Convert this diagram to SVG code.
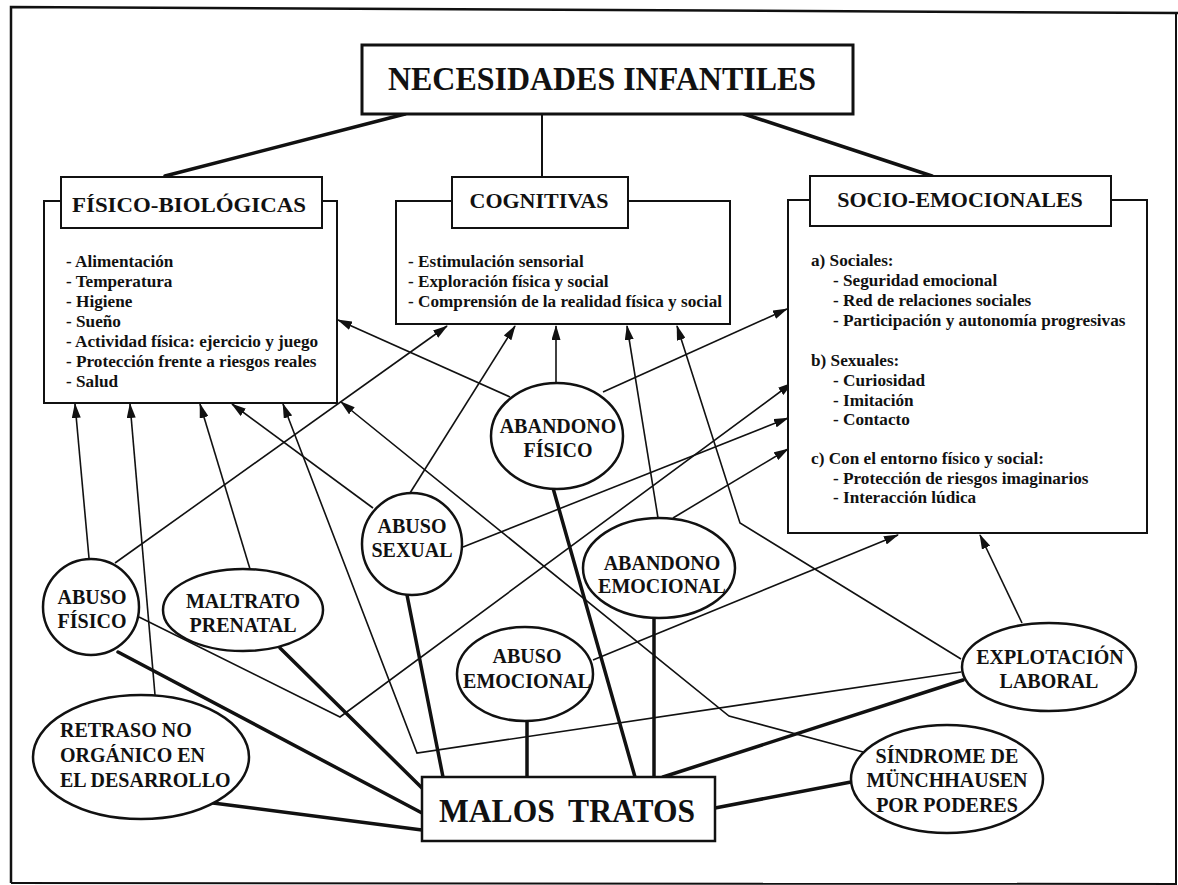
<svg xmlns="http://www.w3.org/2000/svg" width="1178" height="885" viewBox="0 0 1178 885">
<defs>
<marker id="ah" markerUnits="userSpaceOnUse" markerWidth="15" markerHeight="9" refX="14" refY="4.5" orient="auto">
<path d="M0,0 L15,4.5 L0,9 z" fill="#111"/>
</marker>
<style>
.t{font-family:"Liberation Serif","Times New Roman",serif;font-weight:bold;fill:#111}
.box{fill:#fff;stroke:#111;stroke-width:2}
.node{fill:#fff;stroke:#111;stroke-width:2.5}
.thin{fill:none;stroke:#111;stroke-width:1.6;marker-end:url(#ah)}
.thick{fill:none;stroke:#111;stroke-width:3.5;stroke-linecap:round}
.it{font-size:17.2px}
.lb{font-size:22px}
.el{font-size:20px;text-anchor:middle}
</style>
</defs>
<rect width="1178" height="885" fill="#fff"/>
<g id="frame" fill="none" stroke="#111">
<path d="M11,883 L11,7 L1178,13" stroke-width="2.5"/>
<path d="M1176,13 L1176,885" stroke-width="2"/>
<path d="M11,883 L1176,884" stroke-width="2"/>
</g>
<g id="connectors">
<line class="thick" x1="405" y1="114" x2="165" y2="176"/>
<line class="thick" x1="542" y1="114" x2="542" y2="177" style="stroke-width:2"/>
<line class="thick" x1="744" y1="114" x2="932" y2="176"/>
<line class="thick" x1="118" y1="652" x2="422" y2="813"/>
<line class="thick" x1="280" y1="648" x2="422" y2="788"/>
<line class="thick" x1="213" y1="803" x2="422" y2="830"/>
<line class="thick" x1="407" y1="595" x2="443" y2="777"/>
<line class="thick" x1="527" y1="721" x2="527" y2="777"/>
<line class="thick" x1="553" y1="488" x2="635" y2="777"/>
<line class="thick" x1="654" y1="618" x2="654" y2="777"/>
<line class="thick" x1="963" y1="680" x2="663" y2="777"/>
<line class="thick" x1="851" y1="782" x2="715" y2="808"/>
<polyline class="thin" points="89,558 75,404"/>
<polyline class="thin" points="155,695 130,404"/>
<polyline class="thin" points="250,569 200,404"/>
<polyline class="thin" points="373,508 232,404"/>
<polyline class="thin" points="961,672 417,753 283,404"/>
<polyline class="thin" points="510,397 338,320"/>
<polyline class="thin" points="863,752 729,716 341,402"/>
<polyline class="thin" points="115,563 447,326"/>
<polyline class="thin" points="410,493 515,326"/>
<polyline class="thin" points="556,383 556,326"/>
<polyline class="thin" points="658,518 627,326"/>
<polyline class="thin" points="961,659 740,523 677,326"/>
<polyline class="thin" points="603,392 787,309"/>
<polyline class="thin" points="139,617 340,717 792,383"/>
<polyline class="thin" points="463,547 788,418"/>
<polyline class="thin" points="673,518 788,449"/>
<polyline class="thin" points="593,660 898,535"/>
<polyline class="thin" points="1022,623 980,535"/>
</g>
<g id="necesidades">
<rect class="box" x="362" y="45" width="491" height="69" style="stroke-width:3"/>
<text class="t" x="602" y="90" font-size="33" text-anchor="middle" textLength="428" lengthAdjust="spacingAndGlyphs">NECESIDADES INFANTILES</text>
</g>
<g id="fisico">
<rect class="box" x="44" y="201" width="293" height="202"/>
<rect class="box" x="61" y="177" width="261" height="51"/>
<text class="t lb" x="189" y="212" text-anchor="middle" textLength="234" lengthAdjust="spacingAndGlyphs">FÍSICO-BIOLÓGICAS</text>
<text class="t it" x="66" y="267">- Alimentación</text>
<text class="t it" x="66" y="287">- Temperatura</text>
<text class="t it" x="66" y="307">- Higiene</text>
<text class="t it" x="66" y="327">- Sueño</text>
<text class="t it" x="66" y="347">- Actividad física: ejercicio y juego</text>
<text class="t it" x="66" y="367">- Protección frente a riesgos reales</text>
<text class="t it" x="66" y="387">- Salud</text>
</g>
<g id="cognitivas">
<rect class="box" x="396" y="201" width="334" height="123"/>
<rect class="box" x="452" y="177" width="176" height="51"/>
<text class="t lb" x="539" y="208" text-anchor="middle">COGNITIVAS</text>
<text class="t it" x="408" y="267">- Estimulación sensorial</text>
<text class="t it" x="408" y="287">- Exploración física y social</text>
<text class="t it" x="408" y="307">- Comprensión de la realidad física y social</text>
</g>
<g id="socioemocionales">
<rect class="box" x="788" y="200" width="359" height="333"/>
<rect class="box" x="810" y="176" width="301" height="50"/>
<text class="t lb" x="960" y="207" text-anchor="middle">SOCIO-EMOCIONALES</text>
<text class="t it" x="811" y="266">a) Sociales:</text>
<text class="t it" x="833" y="286">- Seguridad emocional</text>
<text class="t it" x="833" y="306">- Red de relaciones sociales</text>
<text class="t it" x="833" y="326">- Participación y autonomía progresivas</text>
<text class="t it" x="811" y="366">b) Sexuales:</text>
<text class="t it" x="833" y="386">- Curiosidad</text>
<text class="t it" x="833" y="406">- Imitación</text>
<text class="t it" x="833" y="425">- Contacto</text>
<text class="t it" x="811" y="464">c) Con el entorno físico y social:</text>
<text class="t it" x="833" y="484">- Protección de riesgos imaginarios</text>
<text class="t it" x="833" y="503">- Interacción lúdica</text>
</g>
<g id="abuso-fisico">
<ellipse class="node" cx="91" cy="607" rx="48" ry="48"/>
<text class="t el" x="92" y="604">ABUSO</text>
<text class="t el" x="92" y="628">FÍSICO</text>
</g>
<g id="maltrato-prenatal">
<ellipse class="node" cx="243" cy="610" rx="80" ry="41"/>
<text class="t el" x="243" y="608">MALTRATO</text>
<text class="t el" x="243" y="632">PRENATAL</text>
</g>
<g id="retraso">
<ellipse class="node" cx="141" cy="757" rx="108" ry="62"/>
<text class="t" font-size="20" x="60" y="737">RETRASO NO</text>
<text class="t" font-size="20" x="60" y="762">ORGÁNICO EN</text>
<text class="t" font-size="20" x="60" y="787">EL DESARROLLO</text>
</g>
<g id="abuso-sexual">
<ellipse class="node" cx="412" cy="544" rx="50" ry="51"/>
<text class="t el" x="412" y="533">ABUSO</text>
<text class="t el" x="412" y="557">SEXUAL</text>
</g>
<g id="abandono-fisico">
<ellipse class="node" cx="557" cy="436" rx="66" ry="53"/>
<text class="t el" x="558" y="433">ABANDONO</text>
<text class="t el" x="558" y="457">FÍSICO</text>
</g>
<g id="abandono-emocional">
<ellipse class="node" cx="659" cy="568" rx="76" ry="50"/>
<text class="t el" x="662" y="570">ABANDONO</text>
<text class="t el" x="662" y="593">EMOCIONAL</text>
</g>
<g id="abuso-emocional">
<ellipse class="node" cx="525" cy="674" rx="68" ry="47"/>
<text class="t el" x="527" y="663">ABUSO</text>
<text class="t el" x="527" y="688">EMOCIONAL</text>
</g>
<g id="explotacion">
<ellipse class="node" cx="1049" cy="667" rx="87" ry="44"/>
<text class="t el" x="1050" y="664">EXPLOTACIÓN</text>
<text class="t el" x="1049" y="688">LABORAL</text>
</g>
<g id="munchhausen">
<ellipse class="node" cx="947" cy="779" rx="96" ry="54"/>
<text class="t el" x="947" y="763">SÍNDROME DE</text>
<text class="t el" x="947" y="787">MÜNCHHAUSEN</text>
<text class="t el" x="947" y="812">POR PODERES</text>
</g>
<g id="malos-tratos">
<rect class="box" x="422" y="777" width="293" height="64" style="stroke-width:2.5"/>
<text class="t" x="567" y="822" font-size="33" text-anchor="middle" textLength="256" lengthAdjust="spacingAndGlyphs">MALOS<tspan dx="14">TRATOS</tspan></text>
</g>
</svg>
